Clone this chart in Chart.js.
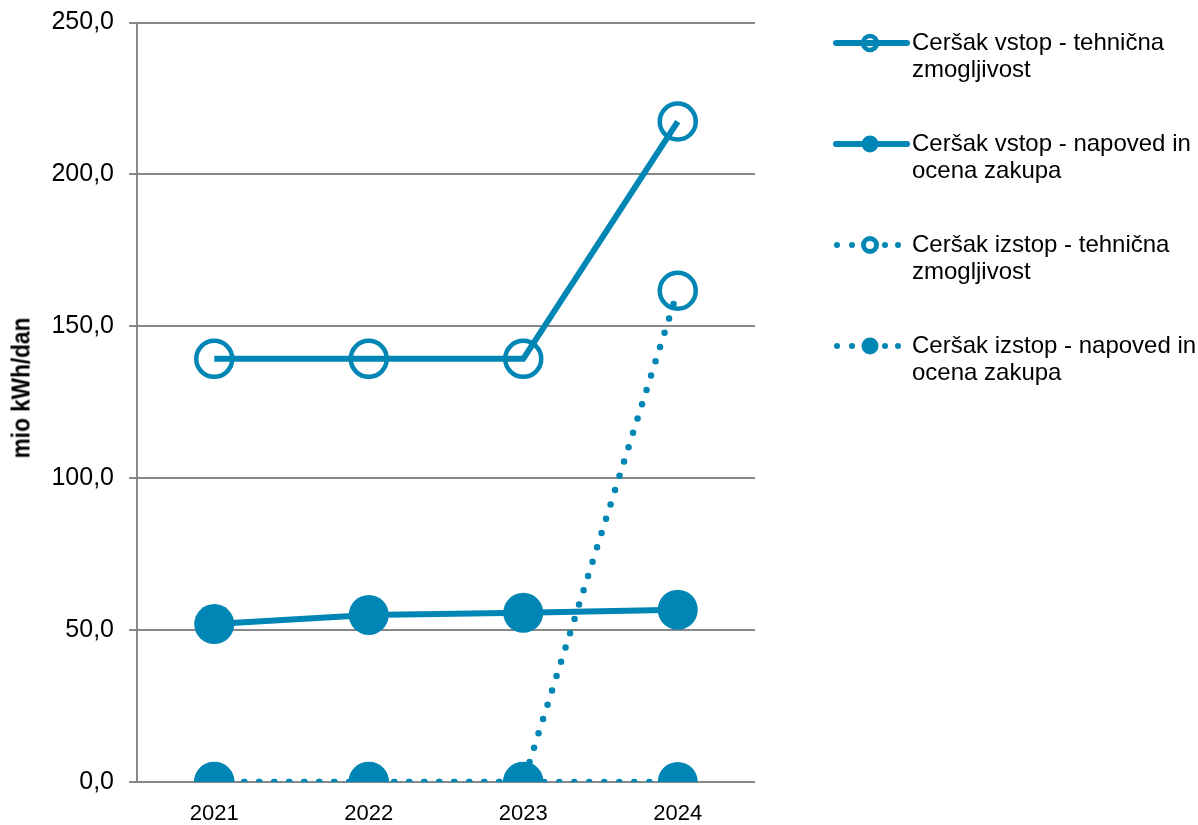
<!DOCTYPE html>
<html>
<head>
<meta charset="utf-8">
<script src="https://cdn.jsdelivr.net/npm/chart.js@4.4.1/dist/chart.umd.min.js"></script>
<style>
  html, body { margin: 0; padding: 0; background: #fff; }
  #wrap { position: relative; width: 1198px; height: 825px; overflow: hidden; }
  #c { position: absolute; left: 0; top: 0; }
  .lg { position: absolute; left: 832px; font-family: "Liberation Sans", Arial, sans-serif; font-size: 24px; line-height: 27px; color: #000; }
  .lg svg { position: absolute; left: 0; top: 0; }
  .lg span { position: absolute; left: 80px; top: 0; white-space: nowrap; }
  #ytitle { position: absolute; left: 21px; top: 388px; transform: translate(-50%, -50%) rotate(-90deg) scaleX(0.87);
            font-family: "Liberation Sans", Arial, sans-serif; font-weight: bold; font-size: 26px; white-space: nowrap; color: #000; }
</style>
</head>
<body>
<div id="wrap">
  <canvas id="c" width="1198" height="825"></canvas>
  <div id="ytitle">mio kWh/dan</div>
  <div id="legend"></div>
</div>
<script>
const categories = ["2021", "2022", "2023", "2024"];
const vstopTehnicna = [139.3, 139.3, 139.3, 217.4];
const vstopNapoved = [52.0, 55.0, 55.7, 56.7];
const izstopTehnicna = [0, 0, 0, 161.7];
const izstopNapoved = [0, 0, 0, 0];
const seriesNames = [
  "Ceršak vstop - tehnična|zmogljivost",
  "Ceršak vstop - napoved in|ocena zakupa",
  "Ceršak izstop - tehnična|zmogljivost",
  "Ceršak izstop - napoved in|ocena zakupa"
];
const yTicks = [0, 50, 100, 150, 200, 250];

const BLUE = "#0086B4";
const GRID = "#888888";

const ctx = document.getElementById("c").getContext("2d");
const chart = new Chart(ctx, {
  type: "line",
  data: {
    labels: categories,
    datasets: [
      { label: seriesNames[0].replace("|", " "), data: vstopTehnicna, borderColor: BLUE, borderWidth: 6,
        pointRadius: 18, pointBorderWidth: 4.5, pointBorderColor: BLUE, pointBackgroundColor: "rgba(0,0,0,0)", tension: 0 },
      { label: seriesNames[1].replace("|", " "), data: vstopNapoved, borderColor: BLUE, borderWidth: 6,
        pointRadius: 20, pointBorderWidth: 0, pointBackgroundColor: BLUE, tension: 0 },
      { label: seriesNames[2].replace("|", " "), data: izstopTehnicna, borderColor: BLUE, borderWidth: 6.5,
        borderDash: [0, 15], borderCapStyle: "round",
        pointRadius: 18, pointBorderWidth: 4.5, pointBorderColor: BLUE, pointBackgroundColor: "rgba(0,0,0,0)", tension: 0 },
      { label: seriesNames[3].replace("|", " "), data: izstopNapoved, borderColor: BLUE, borderWidth: 6.5,
        borderDash: [0, 15], borderCapStyle: "round",
        pointRadius: 20, pointBorderWidth: 0, pointBackgroundColor: BLUE, tension: 0 }
    ]
  },
  options: {
    responsive: false,
    animation: false,
    layout: { padding: { top: 22, right: 443, left: 0, bottom: 0 } },
    plugins: { legend: { display: false }, tooltip: { enabled: false } },
    scales: {
      x: {
        offset: true,
        grid: { display: false },
        border: { display: false },
        ticks: { color: "#000", padding: 11, font: { family: "Liberation Sans", size: 22 } },
        afterFit: s => { s.height = 43; s.paddingLeft = 0; s.paddingRight = 0; }
      },
      y: {
        min: 0, max: 250,
        afterBuildTicks: s => { s.ticks = yTicks.map(v => ({ value: v })); },
        grid: { color: GRID, lineWidth: 2, tickLength: 8, tickColor: GRID },
        border: { display: true, color: GRID, width: 2 },
        ticks: { color: "#000", padding: 15, font: { family: "Liberation Sans", size: 25 },
                 callback: v => v.toFixed(1).replace(".", ",") },
        afterFit: s => { s.width = 137; s.paddingTop = 0; s.paddingBottom = 0; }
      }
    }
  }
});

// HTML legend
const legendTops = [28, 129, 230, 331];
const lg = document.getElementById("legend");
seriesNames.forEach((name, i) => {
  const d = document.createElement("div");
  d.className = "lg";
  d.style.top = legendTops[i] + "px";
  const dotted = i >= 2;
  const hollow = i % 2 === 0;
  let svg = '<svg width="80" height="30" viewBox="0 0 80 30">';
  const cy = 15;
  if (!dotted) {
    svg += `<line x1="4" y1="${cy}" x2="75" y2="${cy}" stroke="${BLUE}" stroke-width="6" stroke-linecap="round"/>`;
    svg += hollow ? `<circle cx="38" cy="${cy}" r="7" fill="none" stroke="${BLUE}" stroke-width="4.5"/>`
                  : `<circle cx="38" cy="${cy}" r="8.5" fill="${BLUE}"/>`;
  } else {
    [5, 20, 53, 66].forEach(x => { svg += `<circle cx="${x}" cy="${cy}" r="3" fill="${BLUE}"/>`; });
    svg += hollow ? `<circle cx="38" cy="${cy}" r="6.5" fill="none" stroke="${BLUE}" stroke-width="5"/>`
                  : `<circle cx="38" cy="${cy}" r="8.5" fill="${BLUE}"/>`;
  }
  svg += '</svg>';
  const parts = name.split("|");
  d.innerHTML = svg + `<span>${parts[0]}<br>${parts[1]}</span>`;
  lg.appendChild(d);
});
</script>
</body>
</html>
